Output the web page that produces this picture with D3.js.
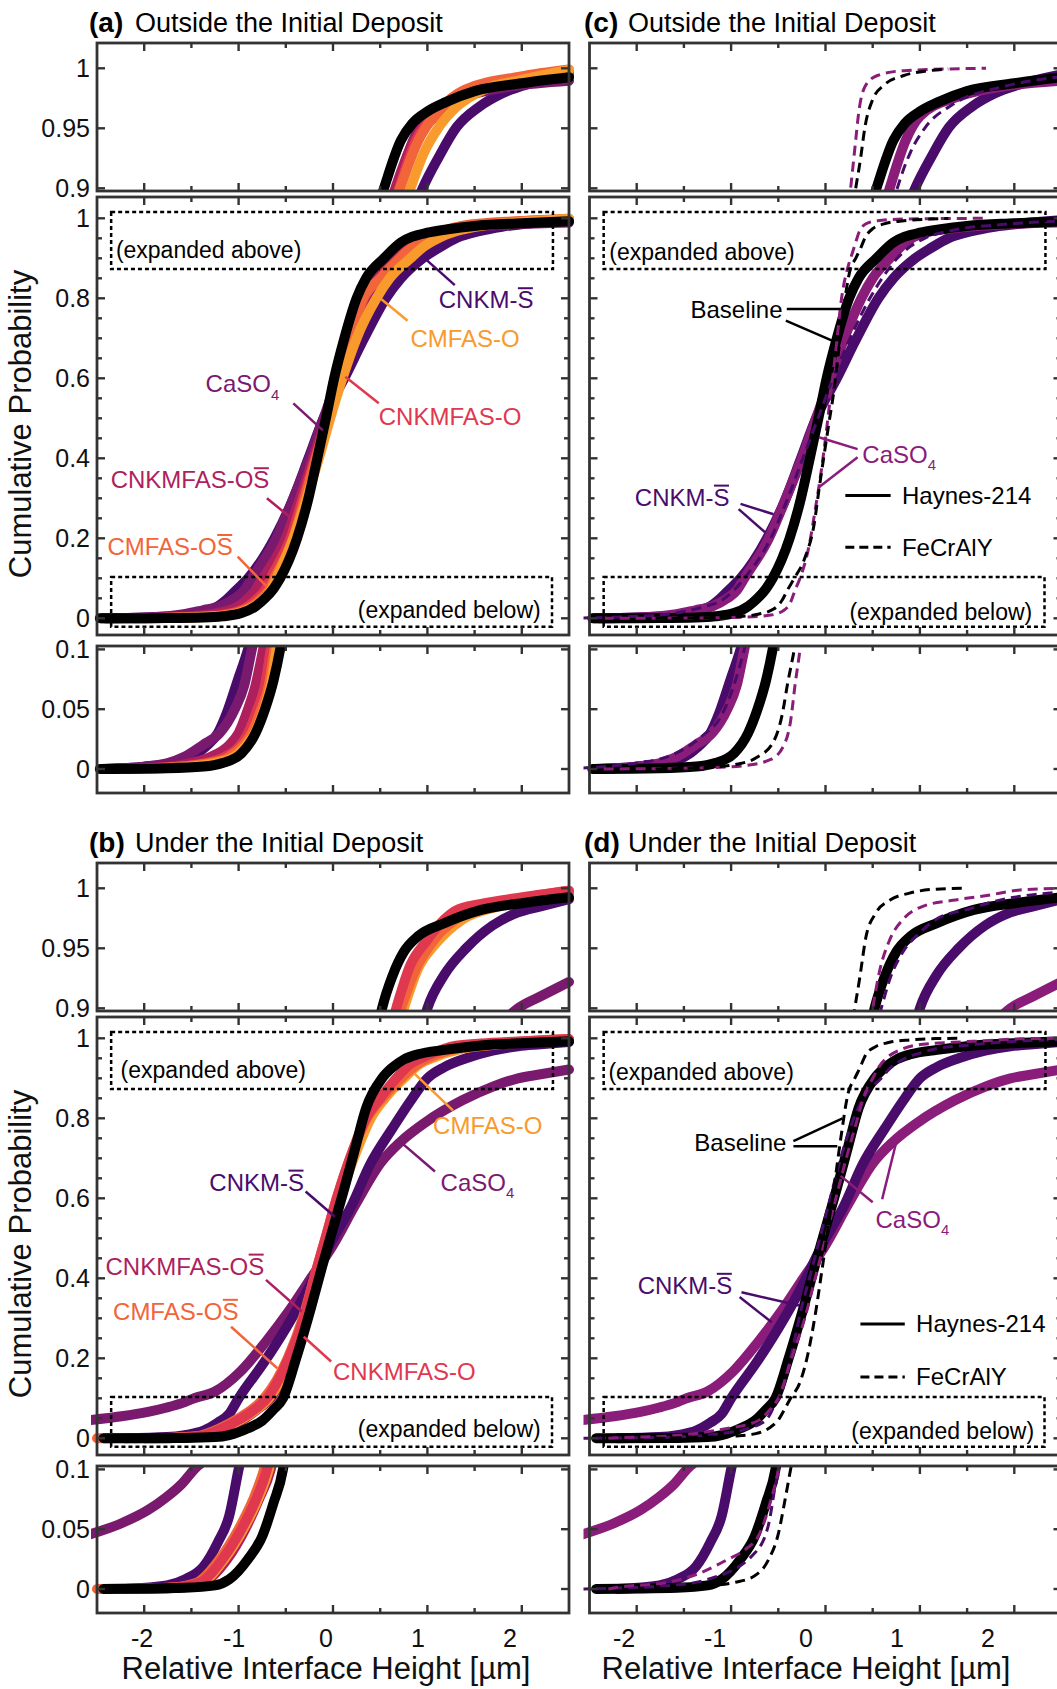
<!DOCTYPE html>
<html><head><meta charset="utf-8">
<script src="https://cdn.jsdelivr.net/npm/d3@7"></script>
<style>body{margin:0;background:#fff}svg{display:block}</style>
</head><body><svg id="c" width="1057" height="1689"></svg>
<script>
// ---------------- DATA (x in µm, cumulative probability) ----------------
const xTickVals=[-2,-1.5,-1,-0.5,0,0.5,1,1.5,2];
const xTickLabels=[-2,-1,0,1,2];
const topTicks=[0.9,0.95,1], topTickLabels=["0.9","0.95","1"];
const midTicks=[0,0.2,0.4,0.6,0.8,1], midTickLabels=["0","0.2","0.4","0.6","0.8","1"];
const midMinor=[0.05,0.1,0.15,0.25,0.3,0.35,0.45,0.5,0.55,0.65,0.7,0.75,0.85,0.9,0.95];
const botTicks=[0,0.05,0.1], botTickLabels=["0","0.05","0.1"];

// Outside the initial deposit, Haynes-214
const outBaseline=[[-2.47,0],[-1.76,0.0006],[-1.37,0.002],[-1.17,0.005],[-0.97,0.013],[-0.82,0.03],[-0.72,0.05],[-0.63,0.074],[-0.56,0.1],[-0.38,0.2],[-0.26,0.3],[-0.166,0.4],[-0.075,0.5],[0.012,0.6],[0.12,0.7],[0.25,0.8],[0.35,0.85],[0.54,0.9],[0.72,0.94],[0.84,0.954],[1.0,0.964],[1.2,0.972],[1.5,0.981],[2.0,0.9875],[2.5,0.9925]];
const outCNKM=[[-2.45,0],[-2.0,0.002],[-1.7,0.005],[-1.5,0.01],[-1.35,0.0186],[-1.22,0.03],[-1.13,0.046],[-1.01,0.074],[-0.9,0.1],[-0.62,0.2],[-0.42,0.3],[-0.26,0.4],[-0.1,0.5],[0.12,0.6],[0.33,0.7],[0.56,0.8],[0.72,0.85],[0.95,0.9],[1.12,0.926],[1.31,0.951],[1.55,0.968],[1.79,0.979],[2.1,0.9875],[2.5,0.995]];
const outCaSO4=[[-2.4,0],[-2.0,0.002],[-1.75,0.005],[-1.58,0.01],[-1.38,0.02],[-1.2,0.03],[-1.04,0.05],[-0.94,0.07],[-0.86,0.1],[-0.6,0.2],[-0.42,0.3],[-0.25,0.4],[-0.1,0.5],[0.05,0.6],[0.2,0.7],[0.38,0.8],[0.5,0.85],[0.68,0.9],[0.85,0.94],[1.0,0.96],[1.39,0.976],[1.9,0.985],[2.5,0.9897]];
const outCNKMFASOS=[[-2.42,0],[-1.9,0.001],[-1.5,0.005],[-1.3,0.01],[-1.1,0.02],[-1.0,0.03],[-0.9,0.05],[-0.82,0.07],[-0.74,0.1],[-0.5,0.2],[-0.35,0.3],[-0.21,0.4],[-0.07,0.5],[0.05,0.6],[0.17,0.7],[0.31,0.8],[0.47,0.85],[0.66,0.9],[0.84,0.9375],[1.08,0.9625],[1.39,0.978],[1.98,0.989],[2.5,0.9936]];
const outCNKMFASO=[[-2.2,0],[-1.8,0.001],[-1.35,0.005],[-1.15,0.01],[-0.98,0.02],[-0.9,0.03],[-0.8,0.05],[-0.72,0.07],[-0.66,0.1],[-0.45,0.2],[-0.32,0.3],[-0.19,0.4],[-0.06,0.5],[0.06,0.6],[0.19,0.7],[0.33,0.8],[0.5,0.85],[0.7,0.9],[0.88,0.94],[1.12,0.9625],[1.43,0.979],[1.98,0.9917],[2.5,0.997]];
const outCMFASOS=[[-2.1,0],[-1.8,0.001],[-1.3,0.005],[-1.1,0.01],[-0.95,0.02],[-0.86,0.03],[-0.76,0.05],[-0.68,0.07],[-0.62,0.1],[-0.42,0.2],[-0.3,0.3],[-0.18,0.4],[-0.06,0.5],[0.06,0.6],[0.18,0.7],[0.32,0.8],[0.5,0.85],[0.71,0.9],[0.89,0.9375],[1.12,0.965],[1.39,0.982],[1.98,0.993],[2.5,0.999]];
const outCMFASO=[[-2.0,0],[-1.7,0.001],[-1.25,0.005],[-1.05,0.01],[-0.92,0.02],[-0.83,0.03],[-0.73,0.05],[-0.66,0.07],[-0.6,0.1],[-0.42,0.2],[-0.28,0.3],[-0.15,0.4],[-0.03,0.5],[0.1,0.6],[0.25,0.7],[0.46,0.8],[0.6,0.85],[0.82,0.9],[0.96,0.929],[1.12,0.951],[1.31,0.968],[1.59,0.982],[1.98,0.99],[2.5,0.9986]];

// Under the initial deposit, Haynes-214
const undBaseline=[[-2.43,0],[-1.57,0.001],[-1.25,0.003],[-1.1,0.008],[-0.9,0.025],[-0.75,0.044],[-0.63,0.072],[-0.53,0.1],[-0.39,0.2],[-0.235,0.325],[-0.12,0.425],[0.0,0.525],[0.12,0.625],[0.235,0.725],[0.35,0.825],[0.52,0.9],[0.63,0.927],[0.75,0.947],[0.9,0.96],[1.18,0.971],[1.57,0.982],[2.04,0.988],[2.5,0.9925]];
const undCNKM=[[-2.2,0],[-1.76,0.003],[-1.57,0.008],[-1.37,0.019],[-1.22,0.039],[-1.1,0.061],[-1.0,0.1],[-0.73,0.19],[-0.5,0.275],[-0.26,0.375],[-0.02,0.49],[0.2,0.583],[0.39,0.683],[0.63,0.775],[0.84,0.85],[1.0,0.9],[1.18,0.928],[1.41,0.95],[1.69,0.969],[1.96,0.98],[2.2,0.985],[2.5,0.991]];
const undCaSO4=[[-2.6,0.045],[-2.24,0.055],[-1.96,0.066],[-1.76,0.077],[-1.6,0.088],[-1.47,0.1],[-1.25,0.117],[-0.98,0.167],[-0.71,0.242],[-0.47,0.317],[-0.235,0.4],[0.0,0.483],[0.235,0.583],[0.51,0.69],[0.71,0.74],[0.98,0.79],[1.37,0.845],[1.7,0.88],[1.96,0.9],[2.2,0.91],[2.5,0.922]];
const undCNKMFASOS=[[-2.1,0],[-1.65,0.001],[-1.38,0.005],[-1.12,0.025],[-0.93,0.05],[-0.79,0.074],[-0.66,0.1],[-0.45,0.2],[-0.3,0.3],[-0.19,0.4],[-0.07,0.5],[0.05,0.6],[0.19,0.7],[0.36,0.8],[0.51,0.85],[0.69,0.9],[0.85,0.936],[1.0,0.955],[1.22,0.974],[1.6,0.985],[2.0,0.991],[2.5,0.996]];
const undCNKMFASO=[[-2.0,0],[-1.7,0.001],[-1.42,0.005],[-1.17,0.025],[-0.97,0.05],[-0.82,0.074],[-0.7,0.1],[-0.47,0.2],[-0.31,0.3],[-0.2,0.4],[-0.08,0.5],[0.04,0.6],[0.18,0.7],[0.35,0.8],[0.5,0.85],[0.67,0.9],[0.82,0.936],[0.98,0.955],[1.18,0.974],[1.29,0.981],[1.57,0.987],[1.96,0.992],[2.5,0.998]];
const undCMFASOS=[[-2.5,0],[-1.75,0.001],[-1.45,0.005],[-1.2,0.025],[-1.0,0.05],[-0.85,0.074],[-0.73,0.1],[-0.48,0.2],[-0.32,0.3],[-0.2,0.4],[-0.08,0.5],[0.04,0.6],[0.18,0.7],[0.36,0.8],[0.52,0.85],[0.72,0.9],[0.88,0.933],[1.05,0.955],[1.3,0.974],[1.7,0.985],[2.1,0.993],[2.5,0.998]];
const undCMFASO=[[-2.0,0],[-1.7,0.001],[-1.4,0.005],[-1.15,0.025],[-0.95,0.05],[-0.8,0.074],[-0.68,0.1],[-0.45,0.2],[-0.3,0.3],[-0.18,0.4],[-0.06,0.5],[0.07,0.6],[0.22,0.7],[0.4,0.8],[0.55,0.85],[0.75,0.9],[0.9,0.933],[1.1,0.955],[1.37,0.974],[1.76,0.985],[2.5,0.997]];

// FeCrAlY, outside
const outBaselineF=[[-1.8,0],[-1.22,0.0014],[-0.94,0.004],[-0.73,0.0096],[-0.55,0.023],[-0.46,0.045],[-0.4,0.072],[-0.33,0.1],[-0.22,0.15],[-0.12,0.236],[-0.07,0.32],[-0.02,0.4],[0.035,0.486],[0.09,0.57],[0.14,0.67],[0.195,0.78],[0.26,0.87],[0.32,0.9],[0.37,0.924],[0.42,0.952],[0.5,0.974],[0.62,0.986],[0.83,0.994],[1.1,0.998],[1.3,0.9995]];
const outCaSO4F=[[-2.35,0],[-1.29,0.001],[-0.87,0.0027],[-0.58,0.008],[-0.44,0.02],[-0.37,0.04],[-0.32,0.072],[-0.27,0.1],[-0.17,0.186],[-0.11,0.27],[-0.05,0.36],[0.0,0.45],[0.05,0.55],[0.11,0.67],[0.17,0.8],[0.24,0.88],[0.28,0.91],[0.32,0.94],[0.35,0.962],[0.42,0.985],[0.55,0.994],[0.83,0.998],[1.7,1.0]];
const outCNKMF=[[-2.6,0.0008],[-2.0,0.005],[-1.65,0.011],[-1.3,0.028],[-1.1,0.045],[-0.97,0.07],[-0.86,0.1],[-0.58,0.2],[-0.4,0.3],[-0.24,0.4],[-0.08,0.5],[0.08,0.6],[0.26,0.7],[0.47,0.8],[0.6,0.85],[0.76,0.9],[0.9,0.93],[1.05,0.95],[1.35,0.97],[1.9,0.985],[2.5,0.993]];

// FeCrAlY, under
const undBaselineF=[[-1.8,0],[-1.67,0.0005],[-1.25,0.0027],[-0.96,0.0055],[-0.75,0.011],[-0.6,0.025],[-0.5,0.046],[-0.43,0.074],[-0.37,0.1],[-0.27,0.14],[-0.19,0.207],[-0.11,0.307],[-0.036,0.423],[0.036,0.54],[0.107,0.656],[0.165,0.755],[0.24,0.863],[0.31,0.9],[0.36,0.924],[0.43,0.96],[0.53,0.979],[0.68,0.99],[0.89,0.996],[1.17,0.9993],[1.46,1.0]];
const undCaSO4F=[[-2.3,0],[-2.2,0.0014],[-1.67,0.0055],[-1.32,0.0137],[-1.03,0.025],[-0.85,0.033],[-0.7,0.046],[-0.58,0.074],[-0.5,0.1],[-0.36,0.2],[-0.22,0.3],[-0.11,0.4],[0.0,0.5],[0.11,0.6],[0.22,0.7],[0.34,0.8],[0.4,0.85],[0.5,0.9],[0.57,0.93],[0.68,0.957],[0.82,0.974],[1.03,0.985],[1.35,0.99],[1.71,0.994],[2.06,0.9986],[2.5,1.0]];
const undCNKMF=[[-2.6,0],[-2.2,0.0008],[-1.67,0.0027],[-1.25,0.008],[-0.75,0.03],[-0.6,0.055],[-0.53,0.087],[-0.49,0.1],[-0.37,0.2],[-0.25,0.33],[-0.17,0.4],[-0.06,0.5],[0.05,0.6],[0.16,0.7],[0.3,0.8],[0.4,0.85],[0.59,0.9],[0.68,0.924],[0.82,0.947],[1.0,0.963],[1.17,0.974],[1.53,0.983],[1.89,0.991],[2.24,0.995],[2.5,0.997]];

// annotations (data coordinates)
const labelsA=[
 {k:"CNKM",t:"CNKM-S",bar:5,x:1.12,p:0.796,lines:[[0.99,0.896,1.29,0.833]]},
 {k:"CMFASO",t:"CMFAS-O",x:0.82,p:0.70,lines:[[0.5,0.8,0.79,0.744]]},
 {k:"CaSO4",t:"CaSO",sub:"4",x:-1.35,p:0.587,lines:[[-0.42,0.5375,-0.107,0.47]]},
 {k:"CNKMFASO",t:"CNKMFAS-O",x:0.485,p:0.504,lines:[[0.13,0.604,0.485,0.5375]]},
 {k:"CNKMFASOS",t:"CNKMFAS-OS",bar:9,x:-2.355,p:0.346,lines:[[-0.7,0.3,-0.44,0.25]]},
 {k:"CMFASOS",t:"CMFAS-OS",bar:7,x:-2.39,p:0.179,lines:[[-1.01,0.154,-0.7,0.079]]}
];
const labelsB=[
 {k:"CMFASO",t:"CMFAS-O",x:1.06,p:0.783,lines:[[0.86,0.9125,1.27,0.82]]},
 {k:"CaSO4",t:"CaSO",sub:"4",x:1.14,p:0.64,lines:[[0.69,0.746,1.08,0.667]]},
 {k:"CNKM",t:"CNKM-S",bar:5,x:-1.31,p:0.64,lines:[[-0.29,0.617,0.02,0.554]]},
 {k:"CNKMFASOS",t:"CNKMFAS-OS",bar:9,x:-2.41,p:0.43,lines:[[-0.71,0.396,-0.33,0.317]]},
 {k:"CMFASOS",t:"CMFAS-OS",bar:7,x:-2.33,p:0.317,lines:[[-1.08,0.279,-0.59,0.175]]},
 {k:"CNKMFASO",t:"CNKMFAS-O",x:0.0,p:0.167,lines:[[-0.31,0.254,-0.02,0.192]]}
];
const labelsC=[
 {k:"Baseline",t:"Baseline",x:-1.43,p:0.773,lines:[[-0.41,0.773,0.16,0.773],[-0.42,0.744,0.07,0.694]]},
 {k:"CaSO4",t:"CaSO",sub:"4",x:0.39,p:0.41,lines:[[0.34,0.423,-0.07,0.4525],[0.34,0.4025,-0.07,0.3275]]},
 {k:"CNKM",t:"CNKM-S",bar:5,x:-2.02,p:0.3025,lines:[[-0.9,0.286,-0.55,0.26],[-0.92,0.273,-0.64,0.215]]}
];
const labelsD=[
 {k:"Baseline",t:"Baseline",x:-1.39,p:0.739,lines:[[-0.34,0.743,0.18,0.80],[-0.34,0.73,0.125,0.73]]},
 {k:"CaSO4",t:"CaSO",sub:"4",x:0.53,p:0.548,lines:[[0.5,0.59,0.16,0.656],[0.6,0.5975,0.765,0.755]]},
 {k:"CNKM",t:"CNKM-S",bar:5,x:-1.99,p:0.382,lines:[[-0.89,0.365,-0.28,0.332],[-0.91,0.353,-0.57,0.29]]}
];
const legendC={x0:0.21,x1:0.69,tx:0.81,pSolid:0.307,pDash:0.1775};
const legendD={x0:0.37,x1:0.84,tx:0.96,pSolid:0.286,pDash:0.1535};
const legendNames=["Haynes-214","FeCrAlY"];
const boxAbove=[-2.35,2.33,0.873,1.016], boxBelow=[-2.35,2.32,-0.021,0.103];

// ---------------- STYLE / LAYOUT ----------------
const colorsLeft={Baseline:"#000000",CNKM:"#4a0c6b",CaSO4:"#7a1a6f",CNKMFASOS:"#ae1f5e",CNKMFASO:"#e0394f",CMFASOS:"#f2653a",CMFASO:"#f89a2c"};
const colorsRight={Baseline:"#000000",CNKM:"#4a0c6b",CaSO4:"#8a1c7a"};
const FONT='"Liberation Sans", Arial, Helvetica, sans-serif';
const AX="#333";
const colX=[[97,569],[589.5,1061.5]];
const titleX=[[89,135],[584,628]];
const rowDY=[0,820];
const subs={top:{y0:43,y1:191,dom:[0.89775,1.02108],maj:topTicks,min:[],lab:topTickLabels},
            mid:{y0:197,y1:635,dom:[-0.04175,1.05325],maj:midTicks,min:midMinor,lab:midTickLabels},
            bot:{y0:646,y1:793,dom:[-0.02007,0.10284],maj:botTicks,min:[],lab:botTickLabels}};
const labelAxis=[{c:326,u:92},{c:806,u:91}];

const panels=[
 {id:"(a)",title:"Outside the Initial Deposit",col:0,row:0,colors:colorsLeft,
  solid:[["CNKM",outCNKM],["CaSO4",outCaSO4],["CNKMFASOS",outCNKMFASOS],["CNKMFASO",outCNKMFASO],["CMFASOS",outCMFASOS],["CMFASO",outCMFASO],["Baseline",outBaseline]],
  dashed:[],labels:labelsA,legend:null,expA:[-2.3,0.92],expB:[2.2,0.02]},
 {id:"(b)",title:"Under the Initial Deposit",col:0,row:1,colors:colorsLeft,
  solid:[["CaSO4",undCaSO4],["CNKM",undCNKM],["CNKMFASOS",undCNKMFASOS],["CMFASO",undCMFASO],["CMFASOS",undCMFASOS],["CNKMFASO",undCNKMFASO],["Baseline",undBaseline]],
  dashed:[],labels:labelsB,legend:null,expA:[-2.25,0.92],expB:[2.2,0.023]},
 {id:"(c)",title:"Outside the Initial Deposit",col:1,row:0,colors:colorsRight,
  solid:[["CNKM",outCNKM],["CaSO4",outCaSO4],["Baseline",outBaseline]],
  dashed:[["CNKM",outCNKMF],["CaSO4",outCaSO4F],["Baseline",outBaselineF]],labels:labelsC,legend:legendC,expA:[-2.29,0.915],expB:[2.19,0.015]},
 {id:"(d)",title:"Under the Initial Deposit",col:1,row:1,colors:colorsRight,
  solid:[["CaSO4",undCaSO4],["CNKM",undCNKM],["Baseline",undBaseline]],
  dashed:[["CNKM",undCNKMF],["CaSO4",undCaSO4F],["Baseline",undBaselineF]],labels:labelsD,legend:legendD,expA:[-2.3,0.917],expB:[2.21,0.018]}
];

// ---------------- DRAW ----------------
const svg=d3.select("#c");
svg.append("rect").attr("width",1057).attr("height",1689).attr("fill","#fff");
const defs=svg.append("defs");

function addText(parent,x,y,str,o){
  const t=parent.append("text").attr("x",x).attr("y",y).attr("font-size",o.fs).attr("fill",o.color)
    .attr("text-anchor",o.anchor||"start").style("font-family",FONT).style("font-weight",o.bold?"bold":"normal");
  if(o.sub){t.append("tspan").text(str);t.append("tspan").attr("font-size",o.fs*0.62).attr("dy",o.fs*0.32).text(o.sub);}
  else t.text(str);
  if(o.bar!=null){
    const r=t.node().getExtentOfChar(o.bar);
    const yb=y-o.fs*0.716-3;
    parent.append("line").attr("x1",r.x+0.5).attr("x2",r.x+r.width-0.5).attr("y1",yb).attr("y2",yb)
      .attr("stroke",o.color).attr("stroke-width",2);
  }
  return t;
}

panels.forEach(P=>{
  const [cx0,cx1]=colX[P.col];
  const dy=rowDY[P.row];
  const colors=P.colors;
  const xs=d3.scaleLinear().domain([-2.5,2.5]).range([cx0,cx1]);
  addText(svg,titleX[P.col][0],32+dy,P.id,{fs:28,color:"#000",bold:true});
  addText(svg,titleX[P.col][1],32+dy,P.title,{fs:27,color:"#000"});

  Object.entries(subs).forEach(([key,S])=>{
    const y0=S.y0+dy,y1=S.y1+dy;
    const ys=d3.scaleLinear().domain(S.dom).range([y1,y0]);
    const cid=`clip${P.id.replace(/\W/g,"")}${key}`;
    defs.append("clipPath").attr("id",cid).append("rect").attr("x",cx0-6).attr("y",y0).attr("width",cx1-cx0+12).attr("height",y1-y0);
    const g=svg.append("g");
    const cg=g.append("g").attr("clip-path",`url(#${cid})`);
    const line=d3.line().x(d=>xs(d[0])).y(d=>ys(d[1])).curve(d3.curveMonotoneX);
    P.solid.forEach(([k,data])=>{
      cg.append("path").attr("d",line(data)).attr("fill","none").attr("stroke",colors[k])
        .attr("stroke-width",10).attr("stroke-linecap","round").attr("stroke-linejoin","round");
    });
    P.dashed.forEach(([k,data])=>{
      cg.append("path").attr("d",line(data)).attr("fill","none").attr("stroke",colors[k])
        .attr("stroke-width",3).attr("stroke-dasharray","10,6");
    });
    if(key==="mid"){
      [boxAbove,boxBelow].forEach(b=>{
        g.append("rect").attr("x",xs(b[0])).attr("y",ys(b[3])).attr("width",xs(b[1])-xs(b[0])).attr("height",ys(b[2])-ys(b[3]))
          .attr("fill","none").attr("stroke","#000").attr("stroke-width",2.5).attr("stroke-dasharray","4,3");
      });
      addText(g,xs(P.expA[0]),ys(P.expA[1])+8,"(expanded above)",{fs:23,color:"#000"});
      addText(g,xs(P.expB[0]),ys(P.expB[1])+8,"(expanded below)",{fs:23,color:"#000",anchor:"end"});
      P.labels.forEach(L=>{
        const col=colors[L.k];
        L.lines.forEach(l=>g.append("line").attr("x1",xs(l[0])).attr("y1",ys(l[1])).attr("x2",xs(l[2])).attr("y2",ys(l[3]))
          .attr("stroke",col).attr("stroke-width",2.5));
        addText(g,xs(L.x),ys(L.p)+8.5,L.t,{fs:24,color:col,sub:L.sub,bar:L.bar});
      });
      if(P.legend){
        const Lg=P.legend;
        g.append("line").attr("x1",xs(Lg.x0)).attr("x2",xs(Lg.x1)).attr("y1",ys(Lg.pSolid)).attr("y2",ys(Lg.pSolid)).attr("stroke","#000").attr("stroke-width",3);
        g.append("line").attr("x1",xs(Lg.x0)).attr("x2",xs(Lg.x1)).attr("y1",ys(Lg.pDash)).attr("y2",ys(Lg.pDash)).attr("stroke","#000").attr("stroke-width",3).attr("stroke-dasharray","9,5");
        addText(g,xs(Lg.tx),ys(Lg.pSolid)+8.5,legendNames[0],{fs:24,color:"#000"});
        addText(g,xs(Lg.tx),ys(Lg.pDash)+8.5,legendNames[1],{fs:24,color:"#000"});
      }
    }
    g.append("rect").attr("x",cx0).attr("y",y0).attr("width",cx1-cx0).attr("height",y1-y0)
      .attr("fill","none").attr("stroke",AX).attr("stroke-width",2.8);
    const tk=(x1,y1_,x2,y2)=>g.append("line").attr("x1",x1).attr("y1",y1_).attr("x2",x2).attr("y2",y2).attr("stroke",AX).attr("stroke-width",2.4);
    xTickVals.forEach(v=>{const L=Number.isInteger(v)?8:5;const X=xs(v);tk(X,y0,X,y0+L);tk(X,y1,X,y1-L);});
    S.maj.forEach(v=>{const Y=ys(v);tk(cx0,Y,cx0+8,Y);tk(cx1,Y,cx1-8,Y);});
    S.min.forEach(v=>{const Y=ys(v);tk(cx0,Y,cx0+5,Y);tk(cx1,Y,cx1-5,Y);});
    if(P.col===0){
      S.maj.forEach((v,i)=>addText(g,90,ys(v)+9,S.lab[i],{fs:25,color:"#111",anchor:"end"}));
    }
  });
  if(P.row===1){
    const LA=labelAxis[P.col];
    const xl=d3.scaleLinear().domain([-2.5,2.5]).range([LA.c-2.5*LA.u,LA.c+2.5*LA.u]);
    xTickLabels.forEach(v=>addText(svg,xl(v),1647,String(v),{fs:25,color:"#111",anchor:"middle"}));
    addText(svg,LA.c,1679,"Relative Interface Height [µm]",{fs:31,color:"#111",anchor:"middle"});
  }
  if(P.col===0){
    svg.append("text").attr("transform",`translate(31,${424+dy}) rotate(-90)`).attr("text-anchor","middle")
      .attr("font-size",31).attr("fill","#111").style("font-family",FONT).text("Cumulative Probability");
  }
});
</script>
</body></html>
